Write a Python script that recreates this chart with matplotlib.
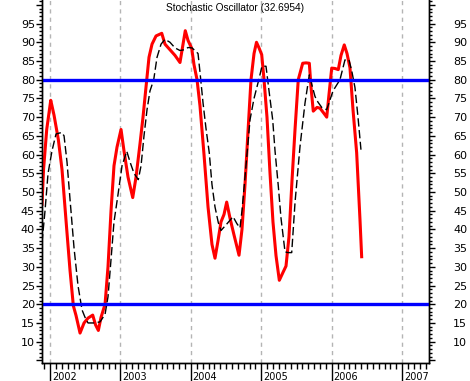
import matplotlib
matplotlib.use("Agg")
import matplotlib.pyplot as plt
from matplotlib.ticker import MultipleLocator, FixedLocator, NullFormatter

# %K line (red), dates as decimal years
k_dates = [2001.886, 2001.908, 2001.953, 2002.010, 2002.028, 2002.057, 2002.118, 2002.170,
           2002.237, 2002.284, 2002.331, 2002.369, 2002.426, 2002.483, 2002.539, 2002.606,
           2002.646, 2002.686, 2002.724, 2002.781, 2002.823, 2002.866, 2002.908, 2002.951,
           2003.008, 2003.050, 2003.107, 2003.174, 2003.221, 2003.278, 2003.320, 2003.373,
           2003.405, 2003.448, 2003.505, 2003.586, 2003.632, 2003.703, 2003.774, 2003.845,
           2003.920, 2003.959, 2004.011, 2004.044, 2004.087, 2004.129, 2004.186, 2004.243,
           2004.299, 2004.342, 2004.385, 2004.427, 2004.470, 2004.508, 2004.555, 2004.612,
           2004.683, 2004.725, 2004.768, 2004.810, 2004.853, 2004.896, 2004.931, 2004.967,
           2005.005, 2005.038, 2005.080, 2005.123, 2005.165, 2005.208, 2005.255, 2005.307,
           2005.350, 2005.392, 2005.435, 2005.478, 2005.524, 2005.587, 2005.634, 2005.681,
           2005.705, 2005.737, 2005.790, 2005.832, 2005.889, 2005.928, 2005.960, 2005.999,
           2006.045, 2006.092, 2006.131, 2006.177, 2006.216, 2006.258, 2006.301, 2006.353,
           2006.400, 2006.424]
k_vals = [46.7, 56, 66.7, 74.5, 73, 70.5, 64, 56,
          40, 29, 19.6, 17, 12.3, 15, 16.3, 17.1,
          14.5, 13, 16.5, 20, 30, 45, 57, 62,
          66.7, 61, 54, 48.5, 54, 63, 70, 80,
          86, 89.5, 91.7, 92.4, 89.5, 88, 86.5, 84.6,
          93.1, 90.5, 88.4, 84, 80, 73, 60, 46,
          36, 32.3, 37, 42, 44, 47.3, 43, 38.5,
          33.1, 40, 52, 66, 80, 87, 90, 88.5,
          86.7, 80, 70, 55, 42, 33, 26.4, 28.5,
          30.2, 38, 53, 66.7, 80, 84.4, 84.5, 84.4,
          78, 71.6, 72.6, 72.4, 71, 70, 76, 83.1,
          83, 82.7, 86.5, 89.3, 87, 83.2, 72, 60.5,
          42.7, 32.7]

# %D line (black dashed)
d_dates = [2001.886, 2001.929, 2001.972, 2002.028, 2002.085, 2002.166, 2002.199, 2002.241,
           2002.284, 2002.341, 2002.397, 2002.454, 2002.497, 2002.539, 2002.639, 2002.710,
           2002.781, 2002.823, 2002.866, 2002.908, 2002.965, 2003.022, 2003.089, 2003.136,
           2003.192, 2003.253, 2003.292, 2003.334, 2003.377, 2003.419, 2003.472, 2003.519,
           2003.576, 2003.632, 2003.703, 2003.774, 2003.845, 2003.902, 2003.959, 2004.016,
           2004.101, 2004.129, 2004.172, 2004.214, 2004.261, 2004.299, 2004.342, 2004.389,
           2004.427, 2004.512, 2004.598, 2004.654, 2004.697, 2004.725, 2004.768, 2004.839,
           2004.896, 2004.957, 2005.009, 2005.066, 2005.109, 2005.161, 2005.194, 2005.241,
           2005.279, 2005.336, 2005.378, 2005.431, 2005.478, 2005.549, 2005.620, 2005.681,
           2005.719, 2005.762, 2005.804, 2005.861, 2005.928, 2006.017, 2006.116, 2006.187,
           2006.244, 2006.287, 2006.329, 2006.372, 2006.414]
d_vals = [36.5, 45, 55, 61, 65.5, 65.9, 65, 58,
          48, 35, 25, 18.5, 16.5, 15, 15, 15.3,
          17.3, 22, 32, 42, 49.3, 57, 60.9, 58,
          55, 53.3, 57, 65, 72, 77, 80, 86,
          89.5, 90.8, 90, 88.5, 87.8, 88, 88.6, 88.5,
          87, 82, 73.8, 67, 60.4, 52, 46, 41.8,
          39.7, 41.5, 43.4, 41.5, 40.4, 45, 54, 69.3,
          75, 79.5, 83.6, 83.6, 77, 69.3, 61, 51.5,
          43, 34, 33.8, 33.8, 47.2, 62.2, 73.8, 81.3,
          78.5, 75.5, 74, 72.5, 72, 77, 80, 85.3,
          85.3, 82, 77.9, 70, 61.3]

years = [2002, 2003, 2004, 2005, 2006, 2007]
levels = [80, 20]
title = "Stochastic Oscillator (32.6954)"

fig = plt.figure(figsize=(4.7, 3.81), dpi=100)
ax = fig.add_axes([42/470, 18/381, 387/470, 363/381])

ax.plot(k_dates, k_vals, color='#ff0000', lw=2.2, zorder=3)
ax.plot(d_dates, d_vals, color='black', lw=1, dashes=(6, 2.5), zorder=4)
for lv in levels:
    ax.axhline(lv, color='#0000ff', lw=2.4, zorder=5)

ax.set_xlim(2001.886, 2007.38)
ax.set_ylim(4.3, 101.3)

# x axis: long year ticks + monthly minor ticks, year gridlines
ax.xaxis.set_major_locator(FixedLocator(years))
ax.xaxis.set_major_formatter(NullFormatter())
months = [y + m / 12 for y in range(2001, 2008) for m in range(12)]
ax.xaxis.set_minor_locator(FixedLocator(months))
ax.tick_params(axis='x', which='major', length=13, width=1, direction='out')
ax.tick_params(axis='x', which='minor', length=4, width=1, direction='out')
ax.grid(axis='x', which='major', color='#b4b4b4', ls=(0, (3, 3)), lw=1)
for y in years:
    ax.text(y + 0.025, -0.024, str(y), transform=ax.get_xaxis_transform(),
            ha='left', va='top', fontsize=7, color='black')

# y axis left
ax.yaxis.set_minor_locator(MultipleLocator(1))
ax.set_yticks(range(5, 101, 5))
ax.set_yticklabels([str(v) if 10 <= v <= 95 else '' for v in range(5, 101, 5)])
ax.tick_params(axis='y', which='major', length=4.3, width=1, pad=0.8, labelsize=8)
ax.tick_params(axis='y', which='minor', length=2.2, width=1)

# y axis right
ax2 = ax.twinx()
ax2.set_ylim(ax.get_ylim())
ax2.set_yticks(range(5, 101, 5))
ax2.set_yticklabels([str(v) if 10 <= v <= 95 else '' for v in range(5, 101, 5)])
ax2.yaxis.set_minor_locator(MultipleLocator(1))
ax2.tick_params(axis='y', which='major', length=4.3, width=1, pad=13, labelsize=8)
ax2.tick_params(axis='y', which='minor', length=2.5, width=1)

for a in (ax, ax2):
    a.spines['top'].set_visible(False)
    for s in ('left', 'right', 'bottom'):
        a.spines[s].set_linewidth(1)

ax.text(0.5, 1 - 8/363, title, transform=ax.transAxes, ha='center', va='center',
        fontsize=7.3, family='Liberation Sans')

fig.savefig('out.png', dpi=100)
